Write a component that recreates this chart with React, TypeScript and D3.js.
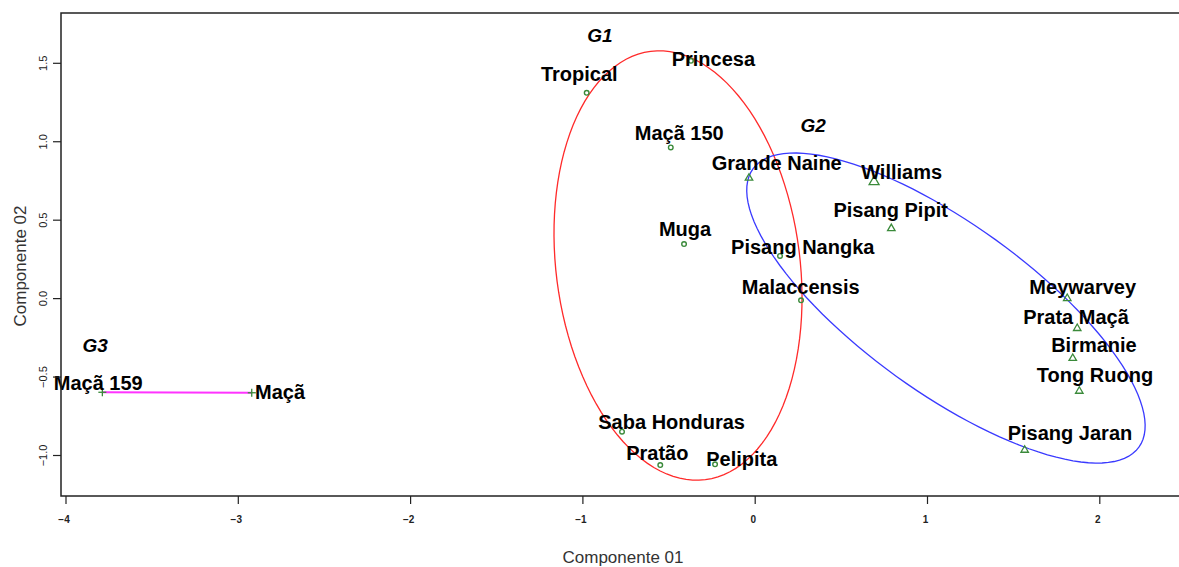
import React from "react";
import * as d3 from "d3";

// scores on the first two components
const names = [
  "Tropical", "Princesa", "Maçã 150", "Muga", "Saba Honduras", "Pratão", "Pelipita",
  "Pisang Nangka", "Malaccensis",
  "Grande Naine", "Williams", "Pisang Pipit", "Meywarvey", "Prata Maçã", "Birmanie",
  "Tong Ruong", "Pisang Jaran",
  "Maçã 159", "Maçã",
];
const comp1 = [
  -0.978, -0.373, -0.49, -0.413, -0.773, -0.551, -0.233, 0.144, 0.266,
  -0.036, 0.69, 0.79, 1.811, 1.869, 1.843, 1.881, 1.564,
  -3.789, -2.922,
];
const comp2 = [
  1.312, 1.516, 0.964, 0.348, -0.848, -1.061, -1.056, 0.272, -0.011,
  0.775, 0.751, 0.454, 0.008, -0.183, -0.374, -0.583, -0.959,
  -0.597, -0.6,
];
const group = [
  "G1", "G1", "G1", "G1", "G1", "G1", "G1", "G1", "G1",
  "G2", "G2", "G2", "G2", "G2", "G2", "G2", "G2",
  "G3", "G3",
];
// where each name was written (data units)
const labelX = [
  -1.021, -0.243, -0.441, -0.407, -0.485, -0.568, -0.078, 0.276, 0.264,
  0.125, 0.85, 0.786, 1.901, 1.862, 1.966, 1.972, 1.827,
  -3.813, -2.758,
];
const labelY = [
  1.431, 1.525, 1.057, 0.444, -0.785, -0.982, -1.022, 0.331, 0.076,
  0.866, 0.809, 0.565, 0.076, -0.119, -0.298, -0.489, -0.858,
  -0.54, -0.597,
];

const groupNames = ["G1", "G2", "G3"];
const groupLabelX = [-0.901, 0.337, -3.831];
const groupLabelY = [1.676, 1.106, -0.296];

// ellipses: centre + two conjugate semi-axes, data units
const ellipseCenter = [[-0.448, 0.211], [1.107, -0.06]];
const ellipseAxisA = [[-0.159, 1.365], [1.12, -0.887]];
const ellipseAxisB = [[0.702, 0.099], [-0.287, -0.436]];
const ellipseColor = ["#ff2a2a", "#3a3aff"];

const xTicks = [-4, -3, -2, -1, 0, 1, 2];
const yTicks = [-1, -0.5, 0, 0.5, 1, 1.5];

const font = "'Liberation Sans', Arial, sans-serif";
const ptColor = "#3a8a3a";

export default function App() {
  const width = 1179;
  const height = 567;
  const box = { left: 61, top: 13, right: 1185, bottom: 496 };

  const x = d3.scaleLinear().domain([-4, 2]).range([66, 66 + 6 * 172.3]);
  const y = d3.scaleLinear().domain([-1, 1.5]).range([455.5, 63.3]);

  const line = d3.line<[number, number]>().x((d) => x(d[0])).y((d) => y(d[1]));

  const ellipsePath = (i: number) => {
    const pts: [number, number][] = d3.range(0, 361, 3).map((deg) => {
      const t = (deg * Math.PI) / 180;
      return [
        ellipseCenter[i][0] + Math.cos(t) * ellipseAxisA[i][0] + Math.sin(t) * ellipseAxisB[i][0],
        ellipseCenter[i][1] + Math.cos(t) * ellipseAxisA[i][1] + Math.sin(t) * ellipseAxisB[i][1],
      ];
    });
    return line(pts) || "";
  };

  const g3 = names.map((_, i) => i).filter((i) => group[i] === "G3");
  const g3Path = line(g3.map((i) => [comp1[i], comp2[i]] as [number, number])) || "";

  const marker = (i: number) => {
    const cx = x(comp1[i]);
    const cy = y(comp2[i]);
    if (group[i] === "G1") {
      return <circle key={"m" + i} cx={cx} cy={cy} r={2.3} fill="none" stroke={ptColor} strokeWidth={1.4} />;
    }
    if (group[i] === "G2") {
      const s = names[i] === "Williams" ? 6 : 4.5;
      const tri = d3.symbol(d3.symbolTriangle, s * s * 1.2)() || "";
      return (
        <path key={"m" + i} d={tri} transform={`translate(${cx},${cy + 1})`}
          fill="none" stroke={ptColor} strokeWidth={1.3} />
      );
    }
    return (
      <g key={"m" + i} stroke={ptColor} strokeWidth={1.3}>
        <line x1={cx - 4} x2={cx + 4} y1={cy} y2={cy} />
        <line x1={cx} x2={cx} y1={cy - 4} y2={cy + 4} />
      </g>
    );
  };

  return (
    <svg width={width} height={height} style={{ position: "absolute", left: 0, top: 0, background: "#fff" }}>
      <rect x={0} y={0} width={width} height={height} fill="#fff" />

      {/* ellipses */}
      {ellipseCenter.map((_, i) => (
        <path key={"e" + i} d={ellipsePath(i)} fill="none" stroke={ellipseColor[i]} strokeWidth={1.3} />
      ))}
      <path d={g3Path} fill="none" stroke="#ff33ff" strokeWidth={2} />

      {/* points */}
      {names.map((_, i) => marker(i))}

      {/* names */}
      {names.map((n, i) => (
        <text key={"t" + i} x={x(labelX[i])} y={y(labelY[i])} textAnchor="middle"
          dominantBaseline="central" fontFamily={font} fontWeight="bold" fontSize={20} fill="#000">
          {n}
        </text>
      ))}
      {groupNames.map((g, i) => (
        <text key={"g" + i} x={x(groupLabelX[i])} y={y(groupLabelY[i])} textAnchor="middle"
          dominantBaseline="central" fontFamily={font} fontWeight="bold" fontStyle="italic"
          fontSize={19} fill="#000">
          {g}
        </text>
      ))}

      {/* frame */}
      <rect x={box.left} y={box.top} width={box.right - box.left} height={box.bottom - box.top}
        fill="none" stroke="#222" strokeWidth={1.5} />

      {/* x axis */}
      <g>
        {xTicks.map((t) => (
          <g key={"xt" + t}>
            <line x1={x(t)} x2={x(t)} y1={box.bottom} y2={box.bottom + 8} stroke="#222" strokeWidth={1.2} />
            <text x={x(t) - 2} y={box.bottom + 27} textAnchor="middle" fontFamily={font}
              fontSize={10} fontWeight="bold" fill="#222">
              {d3.format("d")(t)}
            </text>
          </g>
        ))}
        <text x={623} y={563} textAnchor="middle" fontFamily={font} fontSize={17} fill="#333">
          Componente 01
        </text>
      </g>

      {/* y axis */}
      <g>
        {yTicks.map((t) => (
          <g key={"yt" + t}>
            <line x1={box.left - 8} x2={box.left} y1={y(t)} y2={y(t)} stroke="#222" strokeWidth={1.2} />
            <text transform={`translate(${box.left - 18},${y(t)}) rotate(-90)`} textAnchor="middle"
              dominantBaseline="central" fontFamily={font} fontSize={11} fill="#222">
              {d3.format(".1f")(t)}
            </text>
          </g>
        ))}
        <text transform={`translate(20,266) rotate(-90)`} textAnchor="middle" dominantBaseline="central"
          fontFamily={font} fontSize={17} fill="#333">
          Componente 02
        </text>
      </g>
    </svg>
  );
}
